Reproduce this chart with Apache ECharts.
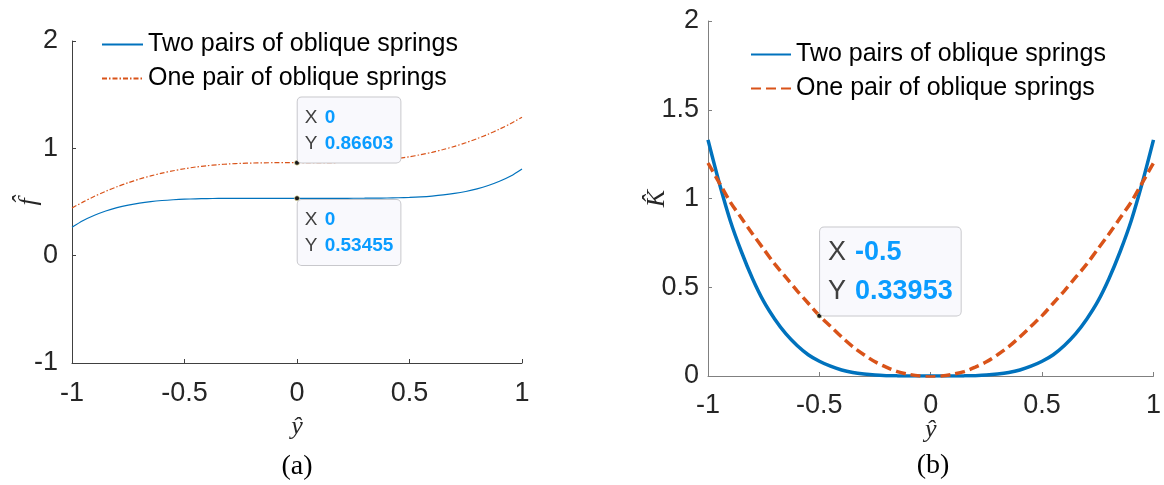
<!DOCTYPE html>
<html>
<head>
<meta charset="utf-8">
<script src="https://cdn.jsdelivr.net/npm/echarts@6/dist/echarts.min.js"></script>
<style>
  html, body { margin: 0; padding: 0; background: #fff; }
  #chart { width: 1164px; height: 485px; }
</style>
</head>
<body>
<div id="chart"></div>
<script>
// normalised displacement (shared x values)
const yHat = [
  -1, -0.95, -0.9, -0.85, -0.8, -0.75, -0.7, -0.65, -0.6, -0.55, -0.5, -0.45, -0.4, -0.35, -0.3, -0.25, -0.2, -0.15, -0.1, -0.05,
  0, 0.05, 0.1, 0.15, 0.2, 0.25, 0.3, 0.35, 0.4, 0.45, 0.5, 0.55, 0.6, 0.65, 0.7, 0.75, 0.8, 0.85, 0.9, 0.95, 1,
]

// (a) force
const fTwo = [
  0.264, 0.327, 0.376, 0.416, 0.447, 0.471, 0.49, 0.504, 0.514, 0.521, 0.526, 0.5295, 0.5318, 0.5331, 0.5339, 0.5343, 0.5345, 0.5345, 0.5345, 0.5345,
  0.53455, 0.5346, 0.5346, 0.5346, 0.5346, 0.5348, 0.5352, 0.536, 0.5373, 0.5396, 0.543, 0.548, 0.5554, 0.5656, 0.5795, 0.598, 0.6222, 0.6535, 0.693, 0.742, 0.808,
]
const fOne = [
  0.444, 0.501, 0.553, 0.6, 0.642, 0.68, 0.714, 0.743, 0.769, 0.791, 0.81, 0.826, 0.838, 0.848, 0.855, 0.86, 0.863, 0.865, 0.866, 0.866,
  0.86603, 0.866, 0.866, 0.867, 0.869, 0.872, 0.877, 0.884, 0.894, 0.906, 0.922, 0.941, 0.963, 0.989, 1.018, 1.052, 1.09, 1.132, 1.179, 1.231, 1.29,
]

// (b) stiffness
const kTwo = [
  1.33, 1.09, 0.875, 0.7, 0.548, 0.42, 0.32, 0.237, 0.172, 0.12, 0.083, 0.055, 0.034, 0.02, 0.011, 0.005, 0.002, 0.0007, 0.0001, 0,
  0, 0, 0.0001, 0.0007, 0.002, 0.005, 0.011, 0.02, 0.034, 0.055, 0.083, 0.12, 0.172, 0.237, 0.32, 0.42, 0.548, 0.7, 0.875, 1.09, 1.33,
]
const kOne = [
  1.2, 1.09, 0.98, 0.89, 0.8, 0.715, 0.63, 0.555, 0.48, 0.41, 0.34, 0.28, 0.22, 0.165, 0.12, 0.08, 0.05, 0.025, 0.01, 0,
  -0.005, 0, 0.01, 0.025, 0.05, 0.08, 0.12, 0.165, 0.22, 0.28, 0.34, 0.41, 0.48, 0.555, 0.63, 0.715, 0.8, 0.89, 0.98, 1.09, 1.2,
]

// data tips
const tipOneA = [0, 0.86603]
const tipTwoA = [0, 0.53455]
const tipOneB = [-0.5, 0.33953]

const nameTwo = 'Two pairs of oblique springs'
const nameOne = 'One pair of oblique springs'

const blue = '#0072BD'
const orange = '#D95319'
const sans = '"Liberation Sans", Arial, sans-serif'
const serif = '"Liberation Serif", "Times New Roman", serif'

const pairs = (ys) => yHat.map((x, i) => [x, ys[i]])

function tip(pt, fontSize, lineHeight, padding, keyWidth, above) {
  return {
    symbol: 'circle',
    symbolSize: 5,
    itemStyle: { color: '#1a1a1a', borderColor: '#fff6b0', borderWidth: 0.6 },
    data: [{ coord: pt }],
    label: {
      show: true,
      position: above ? [3.5, 2.5] : [3.5, 4.5],
      align: 'left',
      verticalAlign: above ? 'bottom' : 'top',
      formatter: () => `{k|X}{v|${pt[0]}}\n{k|Y}{v|${pt[1]}}`,
      backgroundColor: '#f9f9fd',
      borderColor: '#c8c8cc',
      borderWidth: 1,
      borderRadius: 4,
      padding,
      lineHeight,
      rich: {
        k: { color: '#404040', fontSize, fontFamily: sans, lineHeight, width: keyWidth, align: 'left' },
        v: { color: '#0a9cff', fontSize, fontWeight: 'bold', fontFamily: sans, lineHeight },
      },
    },
  }
}

const chart = echarts.init(document.getElementById('chart'))

const axisCommon = (color, size, margin) => ({
  type: 'value',
  splitLine: { show: false },
  nameMoveOverlap: false,
  axisLine: { show: true, onZero: false, lineStyle: { color, width: 1 } },
  axisTick: { show: true, inside: true, length: 4, lineStyle: { color } },
  axisLabel: { color: '#262626', fontSize: size, fontFamily: sans, margin },
})

const nameStyle = { fontFamily: serif, fontStyle: 'italic', fontSize: 26, color: '#262626' }

chart.setOption({
  animation: false,
  grid: [
    { left: 72, right: 642, top: 41, bottom: 122 },
    { left: 708, right: 5, top: 21, bottom: 109 },
  ],
  xAxis: [
    {
      ...axisCommon('#404040', 27, 17),
      gridIndex: 0, min: -1, max: 1, interval: 0.5,
      name: 'ŷ', nameLocation: 'middle', nameGap: 51, nameTextStyle: nameStyle,
    },
    {
      ...axisCommon('#808080', 27, 16),
      gridIndex: 1, min: -1, max: 1, interval: 0.5,
      name: 'ŷ', nameLocation: 'middle', nameGap: 41, nameTextStyle: nameStyle,
    },
  ],
  yAxis: [
    {
      ...axisCommon('#404040', 27, 14),
      gridIndex: 0, min: -1, max: 2, interval: 1,
      name: 'f\u0302', nameLocation: 'middle', nameGap: 30, nameRotate: 90, nameTextStyle: nameStyle,
    },
    {
      ...axisCommon('#808080', 27, 9),
      gridIndex: 1, min: 0, max: 2, interval: 0.5,
      name: 'K\u0302', nameLocation: 'middle', nameGap: 38, nameRotate: 90, nameTextStyle: nameStyle,
    },
  ],
  legend: [
    {
      data: [nameTwo, nameOne],
      left: 101, top: 32, padding: 0, orient: 'vertical',
      itemWidth: 41, itemHeight: 2, itemGap: 9,
      itemStyle: { opacity: 0 },
      textStyle: { fontFamily: sans, fontSize: 25, color: '#000' },
      selectedMode: false,
    },
    {
      data: [nameTwo + ' ', nameOne + ' '],
      left: 750, top: 42, padding: 0, orient: 'vertical',
      itemWidth: 40, itemHeight: 2, itemGap: 9,
      itemStyle: { opacity: 0 },
      formatter: (n) => n.trim(),
      textStyle: { fontFamily: sans, fontSize: 25, color: '#000' },
      selectedMode: false,
    },
  ],
  series: [
    {
      type: 'line', name: nameTwo, xAxisIndex: 0, yAxisIndex: 0,
      data: pairs(fTwo), smooth: 0.3, showSymbol: false, symbol: 'none',
      lineStyle: { color: blue, width: 1.2 }, itemStyle: { color: blue },
      markPoint: tip(tipTwoA, 19, 26, [7, 7, 6, 7], 20, false),
    },
    {
      type: 'line', name: nameOne, xAxisIndex: 0, yAxisIndex: 0,
      data: pairs(fOne), smooth: 0.3, showSymbol: false, symbol: 'none',
      lineStyle: { color: orange, width: 1.2, type: [5, 2, 1.5, 2] }, itemStyle: { color: orange },
      markPoint: tip(tipOneA, 19, 26, [7, 7, 6, 7], 20, true),
    },
    {
      type: 'line', name: nameTwo + ' ', xAxisIndex: 1, yAxisIndex: 1,
      data: pairs(kTwo), smooth: 0.3, showSymbol: false, symbol: 'none',
      lineStyle: { color: blue, width: 3.5 }, itemStyle: { color: blue },
    },
    {
      type: 'line', name: nameOne + ' ', xAxisIndex: 1, yAxisIndex: 1,
      data: pairs(kOne), smooth: 0.3, showSymbol: false, symbol: 'none',
      lineStyle: { color: orange, width: 3.5, type: [10, 5] }, itemStyle: { color: orange },
      markPoint: tip(tipOneB, 27, 39, [6, 8, 4, 8], 27, true),
    },
  ],
  graphic: [
    { type: 'text', x: 297, y: 467, style: { text: '(a)', font: '28px ' + serif, fill: '#000', textAlign: 'center', textVerticalAlign: 'middle' } },
    { type: 'text', x: 933, y: 466, style: { text: '(b)', font: '28px ' + serif, fill: '#000', textAlign: 'center', textVerticalAlign: 'middle' } },
  ],
})
</script>
</body>
</html>
